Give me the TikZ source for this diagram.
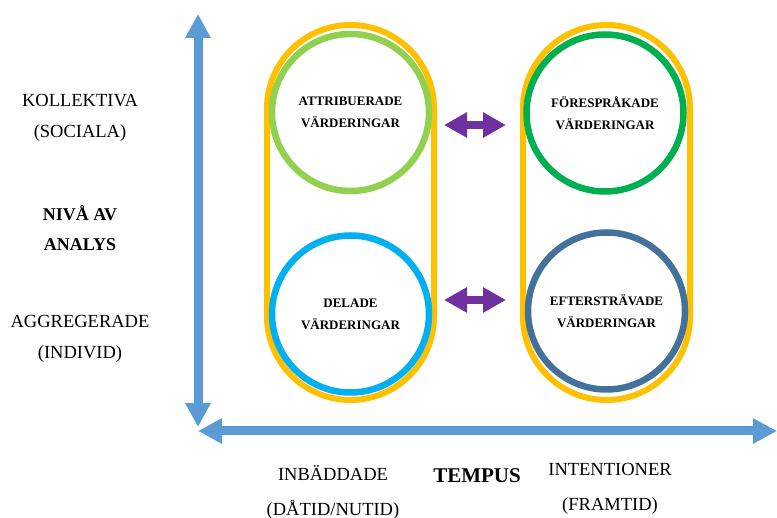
\documentclass[tikz,border=0pt]{standalone}
\usepackage{fontspec}
\setmainfont{Liberation Serif}
\usetikzlibrary{arrows.meta}

\definecolor{capsuleorange}{HTML}{FFC000}
\definecolor{lightgreen}{HTML}{92D050}
\definecolor{darkgreen}{HTML}{00B050}
\definecolor{skyblue}{HTML}{00B0F0}
\definecolor{steelblue}{HTML}{44719C}
\definecolor{axisblue}{HTML}{5B9BD5}
\definecolor{arrowpurple}{HTML}{7030A0}

\tikzset{
  capsule/.style={draw=capsuleorange, line width=6pt, rounded corners=83.5pt},
  valuering/.style={circle, line width=6.5pt, minimum size=157pt, inner sep=0pt,
    align=center, font=\fontsize{13}{22}\selectfont\bfseries},
  axisline/.style={draw=axisblue, line width=9pt,
    {Triangle[width=24pt,length=24pt]}-{Triangle[width=24pt,length=24pt]}},
  linkarrow/.style={draw=arrowpurple, line width=8pt,
    {Triangle[width=24pt,length=23pt]}-{Triangle[width=24pt,length=23pt]}},
  sidelabel/.style={align=center, font=\fontsize{18.5}{30.5}\selectfont},
  boldlabel/.style={align=center, font=\fontsize{18}{30}\selectfont\bfseries},
  timelabel/.style={align=center, font=\fontsize{18.5}{35}\selectfont},
}

\begin{document}
\begin{tikzpicture}[x=1pt, y=-1pt]
  \useasboundingbox (0,0) rectangle (777,518);

  % two time columns
  \draw[capsule] (267,25) rectangle (434,400);
  \draw[capsule] (523,25) rectangle (690,400);

  % four kinds of values
  \node[valuering, draw=lightgreen] (attr) at (350.5,112.5) {ATTRIBUERADE\\VÄRDERINGAR};
  \node[valuering, draw=skyblue] (shared) at (350.5,314) {DELADE\\VÄRDERINGAR};
  \node[valuering, draw=darkgreen] (adv) at (605,113) {FÖRESPRÅKADE\\VÄRDERINGAR};
  \node[valuering, draw=steelblue] (aspir) at (606.5,311) {EFTERSTRÄVADE\\VÄRDERINGAR};

  % links between the columns
  \coordinate (l1) at (444,125);
  \coordinate (r1) at (506,125);
  \coordinate (l2) at (444,300);
  \coordinate (r2) at (506,300);
  \draw[linkarrow] (l1) -- (r1);
  \draw[linkarrow] (l2) -- (r2);

  % axes
  \coordinate (ytop) at (198,14);
  \coordinate (ybot) at (198,427);
  \coordinate (xleft) at (198,431);
  \coordinate (xright) at (777,431);
  \draw[axisline] (ybot) -- (ytop);
  \draw[axisline] (xleft) -- (xright);

  % level of analysis
  \node[sidelabel] (coll) at (80,118) {KOLLEKTIVA\\(SOCIALA)};
  \node[boldlabel] (level) at (80,228) {NIVÅ AV\\ANALYS};
  \node[sidelabel] (aggr) at (80,339) {AGGREGERADE\\(INDIVID)};

  % time
  \node[timelabel] (embed) at (333,492) {INBÄDDADE\\(DÅTID/NUTID)};
  \node[font=\fontsize{21}{25}\selectfont\bfseries] (tempus) at (477,476) {TEMPUS};
  \node[timelabel] (intent) at (610,489) {INTENTIONER\\(FRAMTID)};
\end{tikzpicture}
\end{document}
